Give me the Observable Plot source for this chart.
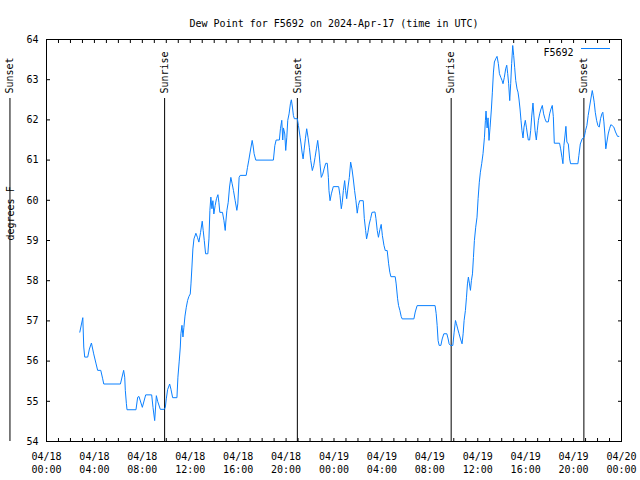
<!DOCTYPE html>
<html>
<head>
<meta charset="utf-8">
<script src="https://cdn.jsdelivr.net/npm/d3@7"></script>
<script src="https://cdn.jsdelivr.net/npm/@observablehq/plot@0.6"></script>
<style>
  html, body { margin: 0; padding: 0; background: white; }
</style>
</head>
<body>
<div id="chart"></div>
<script>
// Hours since 2024-04-18 00:00 UTC
const hours = [
  2.78, 3.03, 3.11, 3.19, 3.44, 3.58, 3.75, 3.94, 4.14, 4.27, 4.53, 4.69, 4.78, 6.17, 6.44, 6.53, 6.58, 6.67, 6.72, 7.47,
  7.61, 7.72, 8.0, 8.28, 8.78, 8.89, 9.03, 9.17, 9.28, 9.5, 9.83, 9.92, 10.0, 10.11, 10.28, 10.39, 10.53, 10.89, 10.97, 11.08,
  11.17, 11.22, 11.31, 11.39, 11.47, 11.56, 11.67, 11.78, 11.89, 12.0, 12.06, 12.14, 12.22, 12.31, 12.47, 12.61, 12.72, 12.86, 13.0, 13.08,
  13.17, 13.28, 13.47, 13.56, 13.64, 13.72, 13.81, 13.89, 13.97, 14.08, 14.19, 14.31, 14.39, 14.47, 14.69, 14.81, 14.92, 14.97, 15.06, 15.17,
  15.28, 15.39, 15.5, 15.61, 15.75, 15.89, 15.97, 16.08, 16.17, 16.67, 16.78, 16.89, 17.0, 17.17, 17.25, 17.33, 17.47, 18.94, 19.06, 19.17,
  19.44, 19.53, 19.64, 19.72, 19.78, 19.89, 19.97, 20.06, 20.14, 20.25, 20.36, 20.44, 20.53, 20.61, 20.69, 20.94, 21.03, 21.17, 21.25, 21.33,
  21.42, 21.5, 21.61, 21.72, 21.83, 21.94, 22.06, 22.19, 22.31, 22.42, 22.53, 22.64, 22.75, 22.83, 22.94, 23.06, 23.17, 23.31, 23.44, 23.53,
  23.58, 23.67, 23.78, 23.94, 24.39, 24.5, 24.61, 24.69, 24.78, 24.89, 24.97, 25.06, 25.17, 25.28, 25.39, 25.5, 25.61, 25.72, 25.83, 25.94,
  26.03, 26.14, 26.44, 26.53, 26.64, 26.72, 26.83, 26.94, 27.06, 27.17, 27.42, 27.5, 27.61, 27.71, 27.83, 27.94, 28.04, 28.17, 28.28, 28.44,
  28.56, 28.66, 28.75, 29.11, 29.19, 29.31, 29.39, 29.5, 29.61, 29.69, 30.67, 30.78, 30.94, 32.44, 32.53, 32.61, 32.69, 32.78, 32.92, 33.03,
  33.17, 33.42, 33.53, 33.61, 33.72, 33.92, 34.03, 34.14, 34.22, 34.33, 34.44, 34.56, 34.69, 34.78, 34.86, 34.97, 35.06, 35.14, 35.22, 35.31,
  35.39, 35.47, 35.56, 35.64, 35.72, 35.83, 35.94, 36.03, 36.13, 36.22, 36.33, 36.44, 36.56, 36.64, 36.69, 36.78, 36.86, 36.94, 37.03, 37.14,
  37.22, 37.31, 37.39, 37.5, 37.61, 37.72, 37.81, 37.92, 38.03, 38.11, 38.22, 38.33, 38.42, 38.5, 38.58, 38.67, 38.75, 38.83, 38.92, 39.0,
  39.08, 39.17, 39.28, 39.36, 39.44, 39.53, 39.61, 39.69, 39.78, 39.86, 39.97, 40.06, 40.14, 40.22, 40.33, 40.42, 40.5, 40.61, 40.69, 40.78,
  40.89, 40.97, 41.06, 41.17, 41.28, 41.39, 41.5, 41.61, 41.72, 41.89, 42.0, 42.11, 42.22, 42.31, 42.39, 42.83, 42.92, 43.03, 43.11, 43.19,
  43.28, 43.36, 43.44, 43.56, 43.67, 43.75, 44.36, 44.44, 44.56, 44.72, 44.89, 45.0, 45.11, 45.22, 45.33, 45.44, 45.56, 45.64, 45.72, 45.81,
  45.92, 46.03, 46.14, 46.25, 46.36, 46.44, 46.53, 46.61, 46.69, 46.78, 46.89, 47.0, 47.11, 47.22, 47.36, 47.5, 47.67, 47.78
];
// Dew point, degrees F
const dewPoint = [
  56.72, 57.08, 56.35, 56.1, 56.1, 56.3, 56.45, 56.18, 55.93, 55.77, 55.77, 55.56, 55.43, 55.43, 55.77, 55.6, 55.27, 54.94, 54.79, 54.79,
  55.1, 55.12, 54.85, 55.16, 55.16, 54.85, 54.52, 55.14, 55.0, 54.8, 54.8, 54.85, 55.06, 55.29, 55.43, 55.3, 55.09, 55.09, 55.6, 56.0,
  56.35, 56.68, 56.89, 56.6, 56.84, 57.12, 57.34, 57.51, 57.61, 57.67, 57.92, 58.34, 58.79, 59.04, 59.18, 59.07, 58.96, 59.2, 59.48, 59.25,
  59.0, 58.67, 58.67, 59.04, 59.75, 60.08, 59.79, 59.99, 59.66, 59.87, 60.04, 60.14, 59.95, 59.7, 59.7, 59.5, 59.25, 59.46, 59.75, 59.95,
  60.33, 60.57, 60.41, 60.24, 59.99, 59.75, 59.91, 60.57, 60.62, 60.62, 60.82, 61.0, 61.2, 61.49, 61.35, 61.16, 61.0, 61.0, 61.36, 61.5,
  61.5, 61.78, 61.99, 61.5, 61.8, 61.65, 61.24, 61.57, 61.99, 62.15, 62.4, 62.5, 62.32, 62.11, 62.03, 62.03, 61.86, 61.57, 61.4, 61.2,
  61.03, 61.24, 61.53, 61.78, 61.57, 61.32, 60.99, 60.74, 60.87, 61.07, 61.28, 61.49, 61.2, 60.91, 60.57, 60.65, 60.78, 60.92, 60.92, 60.57,
  60.24, 59.99, 60.16, 60.34, 60.34, 60.12, 59.79, 59.95, 60.24, 60.49, 60.24, 60.04, 60.33, 60.57, 60.95, 60.78, 60.53, 60.24, 59.99, 59.68,
  59.87, 59.99, 59.99, 59.55, 59.25, 59.04, 59.2, 59.41, 59.55, 59.7, 59.71, 59.55, 59.25, 59.08, 59.27, 59.4, 59.12, 58.88, 58.75, 58.75,
  58.42, 58.21, 58.1, 58.1, 57.92, 57.55, 57.38, 57.26, 57.11, 57.05, 57.05, 57.22, 57.38, 57.38, 57.18, 56.89, 56.51, 56.39, 56.39, 56.55,
  56.68, 56.68, 56.55, 56.43, 56.39, 56.39, 56.72, 57.01, 56.93, 56.8, 56.68, 56.55, 56.43, 56.68, 57.01, 57.26, 57.59, 57.92, 58.09, 57.92,
  57.76, 58.0, 58.17, 58.58, 59.0, 59.33, 59.58, 60.04, 60.45, 60.7, 60.91, 61.16, 61.57, 61.99, 62.22, 61.8, 62.05, 61.49, 61.82, 62.27,
  62.69, 63.19, 63.44, 63.52, 63.58, 63.4, 63.15, 63.06, 62.98, 62.9, 63.06, 63.27, 63.36, 63.15, 62.9, 62.48, 62.9, 63.4, 63.85, 63.6,
  63.31, 62.98, 62.77, 62.69, 62.52, 62.27, 61.99, 61.74, 61.55, 61.82, 61.99, 61.82, 61.65, 61.5, 61.5, 61.74, 62.07, 62.42, 62.1, 61.74,
  61.5, 61.74, 61.99, 62.15, 62.27, 62.36, 62.15, 62.03, 61.95, 61.95, 62.15, 62.27, 62.36, 62.08, 61.42, 61.42, 61.28, 61.07, 60.91, 61.36,
  61.6, 61.84, 61.45, 61.4, 61.03, 60.91, 60.91, 61.11, 61.4, 61.53, 61.57, 61.74, 61.86, 62.11, 62.32, 62.52, 62.73, 62.6, 62.44, 62.19,
  61.99, 61.86, 61.82, 62.03, 62.15, 62.19, 61.95, 61.65, 61.28, 61.45, 61.65, 61.78, 61.88, 61.86, 61.82, 61.7, 61.59, 61.59
];

// Sunrise / sunset events (hours since 2024-04-18 00:00 UTC)
const sunHours = [-3.05, 9.86, 20.94, 33.78, 44.86];
const sunLabels = ["Sunset", "Sunrise", "Sunset", "Sunrise", "Sunset"];

// Axis ticks and labels
const xTickHours = [0, 4, 8, 12, 16, 20, 24, 28, 32, 36, 40, 44, 48];
const xTickLabels = [
  "04/18\n00:00", "04/18\n04:00", "04/18\n08:00", "04/18\n12:00", "04/18\n16:00", "04/18\n20:00",
  "04/19\n00:00", "04/19\n04:00", "04/19\n08:00", "04/19\n12:00", "04/19\n16:00", "04/19\n20:00",
  "04/20\n00:00"
];
const xMinorHours = [0,1,2,3,4,5,6,7,8,9,10,11,12,13,14,15,16,17,18,19,20,21,22,23,24,25,26,27,28,29,30,31,32,33,34,35,36,37,38,39,40,41,42,43,44,45,46,47,48];
const yTicks = [54, 55, 56, 57, 58, 59, 60, 61, 62, 63, 64];

const title = "Dew Point for F5692 on 2024-Apr-17 (time in UTC)";
const yLabel = "degrees F";
const seriesName = "F5692";
const lineColor = "#0a80ff";

const data = hours.map((h, i) => ({h, v: dewPoint[i]}));
const sun = sunHours.map((h, i) => ({h, label: sunLabels[i]}));
const xLabelMap = new Map(xTickHours.map((h, i) => [h, xTickLabels[i]]));

const chart = Plot.plot({
  width: 640,
  height: 480,
  marginLeft: 46,
  marginRight: 19,
  marginTop: 39,
  marginBottom: 39,
  style: {fontFamily: "'DejaVu Sans Mono', monospace", fontSize: "10px", background: "white", color: "black"},
  x: {domain: [0, 48], axis: null, label: null},
  y: {domain: [54, 64], axis: null, label: null},
  marks: [
    Plot.frame({stroke: "black"}),
    Plot.axisX(xMinorHours, {anchor: "bottom", tickSize: -3, tickFormat: () => "", label: null}),
    Plot.axisX(xMinorHours, {anchor: "top", tickSize: -3, tickFormat: () => "", label: null}),
    Plot.axisX(xTickHours, {anchor: "bottom", tickSize: 0, tickPadding: 9, lineHeight: 1.3,
      tickFormat: d => xLabelMap.get(d), label: null}),
    Plot.axisY(yTicks, {anchor: "left", tickSize: -4, tickFormat: () => "", label: null}),
    Plot.axisY(yTicks, {anchor: "right", tickSize: -4, tickFormat: () => "", label: null}),
    Plot.axisY(yTicks, {anchor: "left", tickSize: 0, tickPadding: 8, tickFormat: d => String(d), label: null}),
    Plot.ruleX(sun, {x: "h", insetTop: 59, stroke: "black", strokeWidth: 1}),
    Plot.text(sun, {x: "h", text: "label", frameAnchor: "top", dy: 54, rotate: -90,
      textAnchor: "start", lineAnchor: "middle", fill: "black"}),
    Plot.line(data, {x: "h", y: "v", stroke: lineColor, strokeWidth: 1}),
    Plot.text([title], {frameAnchor: "top", dy: -20, fill: "black"}),
    Plot.text([yLabel], {frameAnchor: "left", dx: -36, rotate: -90, fill: "black"}),
    Plot.text([seriesName], {frameAnchor: "top-right", dx: -48, dy: 9, textAnchor: "end", fill: "black"})
  ]
});

// legend line sample next to the series name
const svg = d3.select(chart);
const xs = chart.scale("x");
const fx2 = xs.range[1];
svg.append("line")
  .attr("x1", fx2 - 40).attr("x2", fx2 - 11)
  .attr("y1", 48.5).attr("y2", 48.5)
  .attr("stroke", lineColor).attr("stroke-width", 1);

document.getElementById("chart").appendChild(chart);
</script>
</body>
</html>
